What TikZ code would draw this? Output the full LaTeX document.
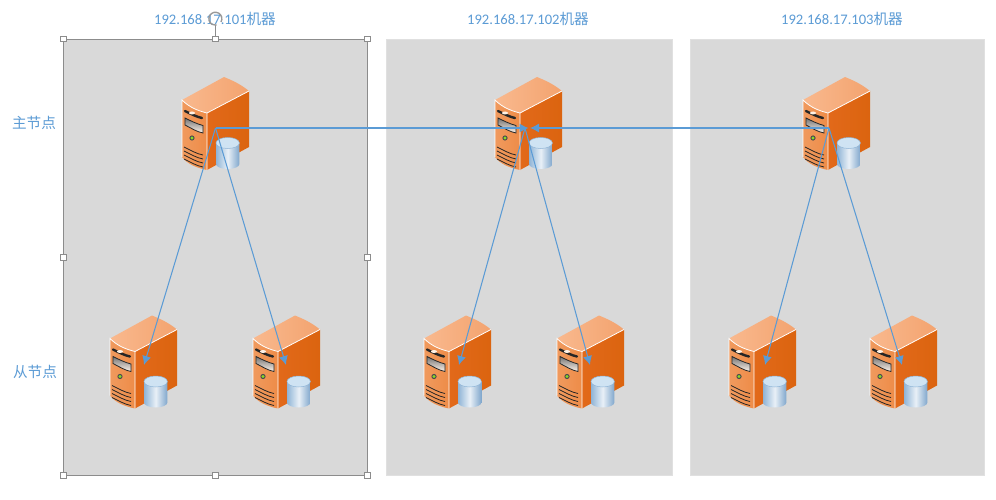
\documentclass[tikz,border=0pt]{standalone}
\usepackage{fontspec}
\setmainfont{Carlito}
\newfontfamily\cjk{Noto Sans CJK SC}
\usetikzlibrary{arrows.meta}
\definecolor{lbl}{HTML}{5B9BD5}
\definecolor{panelgray}{HTML}{D9D9D9}
\definecolor{conn}{HTML}{5B9BD5}
\definecolor{srvA}{HTML}{F9B98E}
\definecolor{srvB}{HTML}{F3A36F}
\definecolor{srvC}{HTML}{E2691A}
\definecolor{srvD}{HTML}{DB640F}
\definecolor{srvE}{HTML}{F09A5E}
\definecolor{srvF}{HTML}{EE8C48}
\definecolor{cylA}{HTML}{8FB4D6}
\definecolor{cylB}{HTML}{7FA6CC}
\definecolor{cylT}{HTML}{CFE3F3}
\tikzset{
  x=1pt,y=-1pt,
  panel/.style={fill=panelgray,draw=black!12,line width=0.6pt},
  caption/.style={text=lbl,font=\fontsize{14.6}{16}\selectfont,inner sep=0pt,anchor=center},
  sidelabel/.style={text=lbl,font=\cjk\fontsize{14.6}{16}\selectfont,inner sep=0pt,anchor=center},
  link/.style={draw=conn,line width=1.05pt},
  linkarrow/.style={link,-{Latex[length=9pt,width=9pt]}},
  handle/.style={draw=black!45,fill=white,line width=0.5pt,minimum size=5.5pt,inner sep=0pt,rectangle},
  server/.pic={
    % top face
    \shade[left color=srvA,right color=srvB] (-25,-13) .. controls (-17,-5) and (-8,-2) .. (0,0) -- (42,-22) .. controls (32,-30) and (24,-33) .. (17,-36) -- cycle;
    % right face
    \shade[left color=srvC,right color=srvD] (0,0) -- (42,-22) -- (42,34) -- (0,57) -- cycle;
    % front face
    \shade[left color=srvE,right color=srvF] (-25,-13) .. controls (-17,-5) and (-8,-2) .. (0,0) -- (0,57) .. controls (-10,55) and (-20,51) .. (-25,44) -- cycle;
    % white edges
    \draw[white,line width=0.8pt] (-25,44) -- (-25,-13) .. controls (-17,-5) and (-8,-2) .. (0,0) -- (0,57);
    \draw[white,line width=0.8pt] (0,0) -- (42,-22);
    % slot
    \draw[black!85,line width=2.4pt,line cap=round] (-22,-2) .. controls (-16,1) and (-10,4) .. (-5,5);
    \fill[white!90!orange] (-15,0) circle[x radius=3,y radius=1.5];
    % bezel
    \shade[draw=black!85,line width=0.8pt,top color=black!55,bottom color=white!92!orange] (-22,5) .. controls (-16,8) and (-10,11) .. (-4,12.5) -- (-4,20) .. controls (-10,19) and (-16,15) .. (-22,12) -- cycle;
    % button
    \fill[black!70] (-15,25) circle[radius=2.6];
    \fill[green!45!yellow!70!gray] (-15,25) circle[radius=1.6];
    % vents
    \foreach \d in {0,4,8,12}{
      \draw[black!85,line width=0.8pt] (-23,34+\d) .. controls (-17,37+\d) and (-10,41+\d) .. (-4,42+\d);
    }
    % cylinder
    \shade[left color=cylA,right color=cylB,middle color=white!80!cylA] (9,30) -- (9,51) arc[start angle=180,end angle=0,x radius=11.7,y radius=5] -- (32.4,30) -- cycle;
    \fill[cylT] (20.7,30) circle[x radius=11.7,y radius=5.5];
    \draw[cylA,line width=0.5pt] (20.7,30) circle[x radius=11.7,y radius=5.5];
  }
}
\begin{document}
\begin{tikzpicture}
\useasboundingbox (0,0) rectangle (996,500);
\fill[white] (0,0) rectangle (996,500);
% panels
\path[panel,draw=black!45] (63,39) rectangle (367,475);
\path[panel] (386,39) rectangle (672,475);
\path[panel] (690,39) rectangle (984,475);
% captions
\node[caption] (cap1) at (215,19) {192.168.17.101{\cjk 机器}};
\node[caption] (cap2) at (528,19) {192.168.17.102{\cjk 机器}};
\node[caption] (cap3) at (842,19) {192.168.17.103{\cjk 机器}};
\node[sidelabel] (main) at (34,122.5) {主节点};
\node[sidelabel] (slave) at (35,372) {从节点};
% servers
\pic at (207,113) {server};
\pic at (520,113) {server};
\pic at (828,113) {server};
\pic at (135,351.5) {server};
\pic at (278,351.5) {server};
\pic at (449,351.5) {server};
\pic at (582,351.5) {server};
\pic at (754,351.5) {server};
\pic at (895,351.5) {server};
% connector ends
\coordinate (h1) at (215.5,128);
\coordinate (h2) at (525,128);
\coordinate (h3) at (829,128);
\coordinate (m12) at (528.5,128);
\coordinate (m32) at (530,128);
\coordinate (a1) at (144,365);
\coordinate (a2) at (286,365);
\coordinate (b1) at (459,365);
\coordinate (b2) at (590,365);
\coordinate (c1) at (765,365);
\coordinate (c2) at (902,365);
\draw[linkarrow] (h1) -- (m12);
\draw[linkarrow] (h3) -- (m32);
\draw[linkarrow] (h1) -- (a1);
\draw[linkarrow] (h1) -- (a2);
\draw[linkarrow] (h2) -- (b1);
\draw[linkarrow] (h2) -- (b2);
\draw[linkarrow] (h3) -- (c1);
\draw[linkarrow] (h3) -- (c2);
% selection handles
\draw[black!45,line width=0.5pt] (215,39) -- (215,25);
\draw[black!40,line width=1.4pt] (221,22) arc[start angle=30,end angle=-280,radius=6.5];
\node[handle] (hTL) at (63,39) {};
\node[handle] (hTM) at (215,39) {};
\node[handle] (hTR) at (367,39) {};
\node[handle] (hML) at (63,257) {};
\node[handle] (hMR) at (367,257) {};
\node[handle] (hBL) at (63,475) {};
\node[handle] (hBM) at (215,475) {};
\node[handle] (hBR) at (367,475) {};
\end{tikzpicture}
\end{document}
